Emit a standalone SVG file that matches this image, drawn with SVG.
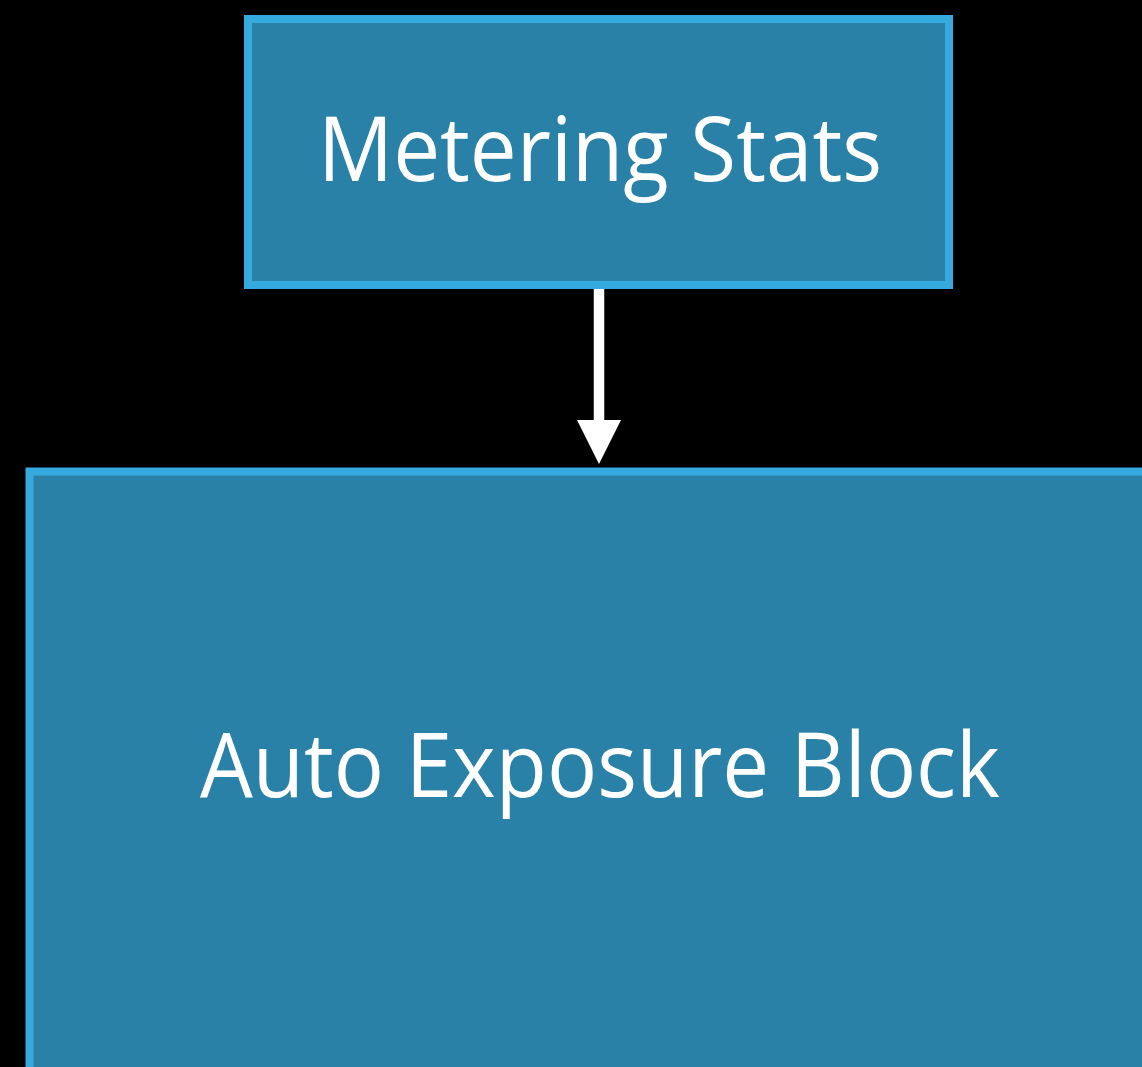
<svg xmlns="http://www.w3.org/2000/svg" width="1142" height="1067" viewBox="0 0 1142 1067">
  <style>
    .box { fill: #2981A8; stroke: #36A9DE; stroke-width: 8; }
    .label { fill: #FFFFFF; font-family: "Open Sans", "Noto Sans", "Liberation Sans", sans-serif; font-size: 90px; text-anchor: middle; }
    .wire { stroke: #FFFFFF; stroke-width: 10.5; fill: none; }
    .head { fill: #FFFFFF; }
  </style>
  <rect x="0" y="0" width="1142" height="1067" fill="#000000"/>

  <g id="connectors">
    <line class="wire" x1="599" y1="289" x2="599" y2="424"/>
    <polygon class="head" points="577,420 621,420 599,464"/>
  </g>

  <g id="metering-stats">
    <rect class="box" x="248" y="19" width="701" height="266"/>
    <text class="label" x="600" y="181" textLength="564" lengthAdjust="spacingAndGlyphs">Metering Stats</text>
  </g>

  <g id="auto-exposure-block">
    <rect class="box" x="29.5" y="471.5" width="1200" height="700"/>
    <text class="label" x="600" y="797" textLength="800" lengthAdjust="spacingAndGlyphs">Auto Exposure Block</text>
  </g>
</svg>
